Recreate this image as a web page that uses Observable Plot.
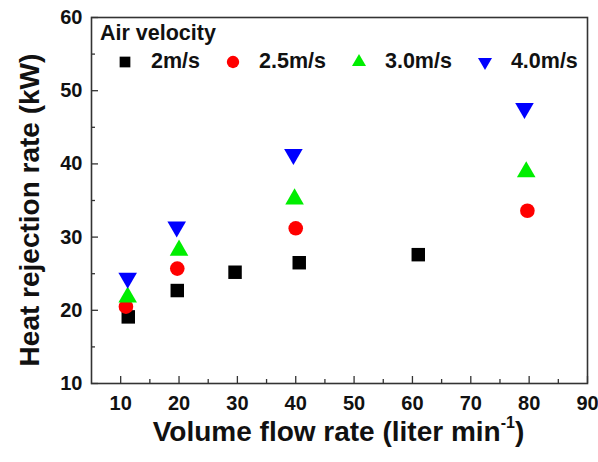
<!DOCTYPE html>
<html>
<head>
<meta charset="utf-8">
<script src="https://cdn.jsdelivr.net/npm/d3@7"></script>
<script src="https://cdn.jsdelivr.net/npm/@observablehq/plot@0.6"></script>
<style>
  html, body { margin: 0; padding: 0; background: #fff; }
  #chart { position: relative; width: 598px; height: 462px; font-family: "Liberation Sans", Arial, sans-serif; font-weight: bold; color: #111; }
  #chart svg { display: block; }
  .ylab { position: absolute; left: 29.5px; top: 210px; transform: translate(-50%, -50%) rotate(-90deg); white-space: nowrap; font-size: 28px; line-height: 28px; }
  .xlab { position: absolute; left: 338.5px; top: 418px; transform: translateX(-50%); white-space: nowrap; font-size: 28px; line-height: 28px; }
  .xlab sup { font-size: 16px; line-height: 0; position: relative; top: -3px; vertical-align: super; }
  .legend-title { position: absolute; left: 100px; top: 23px; font-size: 21.5px; line-height: 21.5px; }
  .legend-row { position: absolute; left: 119px; top: 51px; display: flex; align-items: center; font-size: 21.5px; line-height: 21.5px; }
  .legend-row .item { display: flex; align-items: center; margin-right: 27px; }
  .legend-row svg { display: block; margin-right: 20px; }
</style>
</head>
<body>
<div id="chart"></div>
<script>
// Heat rejection rate vs. coolant volume flow rate, one series per air velocity
const series = ["2m/s", "2.5m/s", "3.0m/s", "4.0m/s"];
const colors = ["#000000", "#ff0000", "#00ee00", "#0000ff"];
const symbols = ["square", "circle", "triangle", "triangle"];
const rotations = [0, 0, 0, 180];

const flow2 = [11.3, 19.7, 29.6, 40.6, 61.0];
const heat2 = [19.1, 22.7, 25.2, 26.5, 27.6];
const flow25 = [10.9, 19.7, 40.0, 79.7];
const heat25 = [20.5, 25.7, 31.2, 33.6];
const flow30 = [11.2, 20.0, 39.8, 79.5];
const heat30 = [21.8, 28.2, 35.2, 38.9];
const flow40 = [11.2, 19.6, 39.6, 79.2];
const heat40 = [24.4, 31.4, 41.3, 47.6];

const xTicks = [10, 20, 30, 40, 50, 60, 70, 80, 90];
const xMinor = [15, 25, 35, 45, 55, 65, 75, 85];
const yTicks = [10, 20, 30, 40, 50, 60];
const yMinor = [15, 25, 35, 45, 55];

const flows = [flow2, flow25, flow30, flow40];
const heats = [heat2, heat25, heat30, heat40];
const rows = series.flatMap((s, i) => flows[i].map((f, j) => ({series: s, idx: i, flow: f, heat: heats[i][j]})));

const font = "Liberation Sans, Arial, sans-serif";
const sizes = [7.6, 7.3, 6.9, 6.9];

const plot = Plot.plot({
  width: 598,
  height: 462,
  marginLeft: 91,
  marginRight: 11,
  marginTop: 17,
  marginBottom: 79,
  style: {fontFamily: font, fontWeight: "bold", fontSize: "20px", color: "#111", background: "white"},
  x: {domain: [5, 90]},
  y: {domain: [10, 60]},
  marks: [
    Plot.axisX(xTicks, {tickSize: -7, text: null, label: null, stroke: "#333", strokeWidth: 1.3}),
    Plot.axisX(xMinor, {tickSize: -4, text: null, label: null, stroke: "#333", strokeWidth: 1.3}),
    Plot.axisX(xTicks, {tickSize: 0, tickPadding: 12, label: null, fontSize: 20, fill: "#111"}),
    Plot.axisY(yTicks, {tickSize: -7, text: null, label: null, stroke: "#333", strokeWidth: 1.3}),
    Plot.axisY(yMinor, {tickSize: -4, text: null, label: null, stroke: "#333", strokeWidth: 1.3}),
    Plot.axisY(yTicks, {tickSize: 0, tickPadding: 9, label: null, fontSize: 20, fill: "#111"}),
    Plot.frame({stroke: "#333", strokeWidth: 1.6}),
    ...series.map((s, i) => Plot.dot(rows.filter(d => d.idx === i), {
      x: "flow",
      y: "heat",
      symbol: () => symbols[i],
      fill: colors[i],
      stroke: "none",
      r: sizes[i],
      rotate: rotations[i]
    }))
  ]
});

const chart = document.getElementById("chart");
chart.appendChild(plot);

const ylab = document.createElement("div");
ylab.className = "ylab";
ylab.textContent = "Heat rejection rate (kW)";
chart.appendChild(ylab);

const xlab = document.createElement("div");
xlab.className = "xlab";
xlab.innerHTML = "Volume flow rate (liter min<sup>-1</sup>)";
chart.appendChild(xlab);

// Legend: title plus one swatch per air velocity
const title = document.createElement("div");
title.className = "legend-title";
title.textContent = "Air velocity";
chart.appendChild(title);

const row = document.createElement("div");
row.className = "legend-row";
const symPaths = {
  square: d3.symbol(d3.symbolSquare, 115)(),
  circle: d3.symbol(d3.symbolCircle, 120)(),
  triangle: d3.symbol(d3.symbolTriangle, 85)()
};
series.forEach((s, i) => {
  const item = document.createElement("div");
  item.className = "item";
  item.innerHTML = `<svg width="12" height="14" viewBox="-6 -7 12 14" style="overflow:visible"><path d="${symPaths[symbols[i]]}" fill="${colors[i]}" transform="rotate(${rotations[i]})"/></svg><span>${s}</span>`;
  row.appendChild(item);
});
chart.appendChild(row);
</script>
</body>
</html>
